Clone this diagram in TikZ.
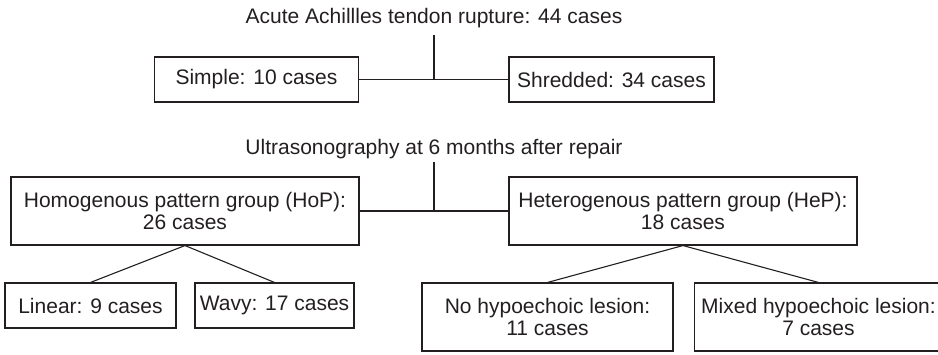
\documentclass[tikz,border=0pt]{standalone}
\usepackage{fontspec}
\setmainfont{Liberation Sans}
\definecolor{ink}{HTML}{231F20}
\begin{document}
\begin{tikzpicture}[x=1pt,y=-1pt,
  box/.style={draw=ink, line width=1.1pt, rectangle, inner sep=0pt, align=center,
    text=ink, font=\fontsize{21}{21.5}\selectfont},
  title/.style={inner xsep=0pt, text=ink, font=\fontsize{21}{21.5}\selectfont, anchor=base},
  link/.style={draw=ink, line width=1.1pt}]
\useasboundingbox (0,0) rectangle (938,354);
\clip (0,0) rectangle (938,354);
% titles
\node[title, inner ysep=7.3pt] (t1) at (434,23.3) {Acute Achillles tendon rupture: 44 cases};
\node[title, inner ysep=3.6pt] (t2) at (434,154) {Ultrasonography at 6 months after repair};
% first level
\node[box, minimum width=204pt, minimum height=45pt] (simple) at (256.5,79.5) {Simple: 10 cases};
\node[box, minimum width=205pt, minimum height=45pt] (shred) at (611.5,79.5) {Shredded: 34 cases};
\coordinate (j1) at (434,79.5);
% second level
\node[box, minimum width=348pt, minimum height=68pt] (hop) at (185,211) {Homogenous pattern group (HoP):\\26 cases};
\node[box, minimum width=348pt, minimum height=68pt] (hep) at (683,211) {Heterogenous pattern group (HeP):\\18 cases};
\coordinate (j2) at (434,211);
% third level
\node[box, minimum width=171pt, minimum height=45pt] (lin) at (90.5,305.5) {Linear: 9 cases};
\node[box, minimum width=159pt, minimum height=45pt] (wavy) at (274.5,305.5) {Wavy: 17 cases};
\node[box, minimum width=251pt, minimum height=68pt] (nohyp) at (547.5,317) {No hypoechoic lesion:\\11 cases};
\node[box, minimum width=248pt, minimum height=68pt] (mixed) at (818.5,317) {Mixed hypoechoic lesion:\\7 cases};
% connectors
\draw[link] (t1) -- (j1);
\draw[link] (simple) -- (shred);
\draw[link] (t2) -- (j2);
\draw[link] (hop) -- (hep);
\draw[link] (hop.south) -- (lin.north);
\draw[link] (hop.south) -- (wavy.north);
\draw[link] (hep.south) -- (nohyp.north);
\draw[link] (hep.south) -- (mixed.north);
\end{tikzpicture}
\end{document}
